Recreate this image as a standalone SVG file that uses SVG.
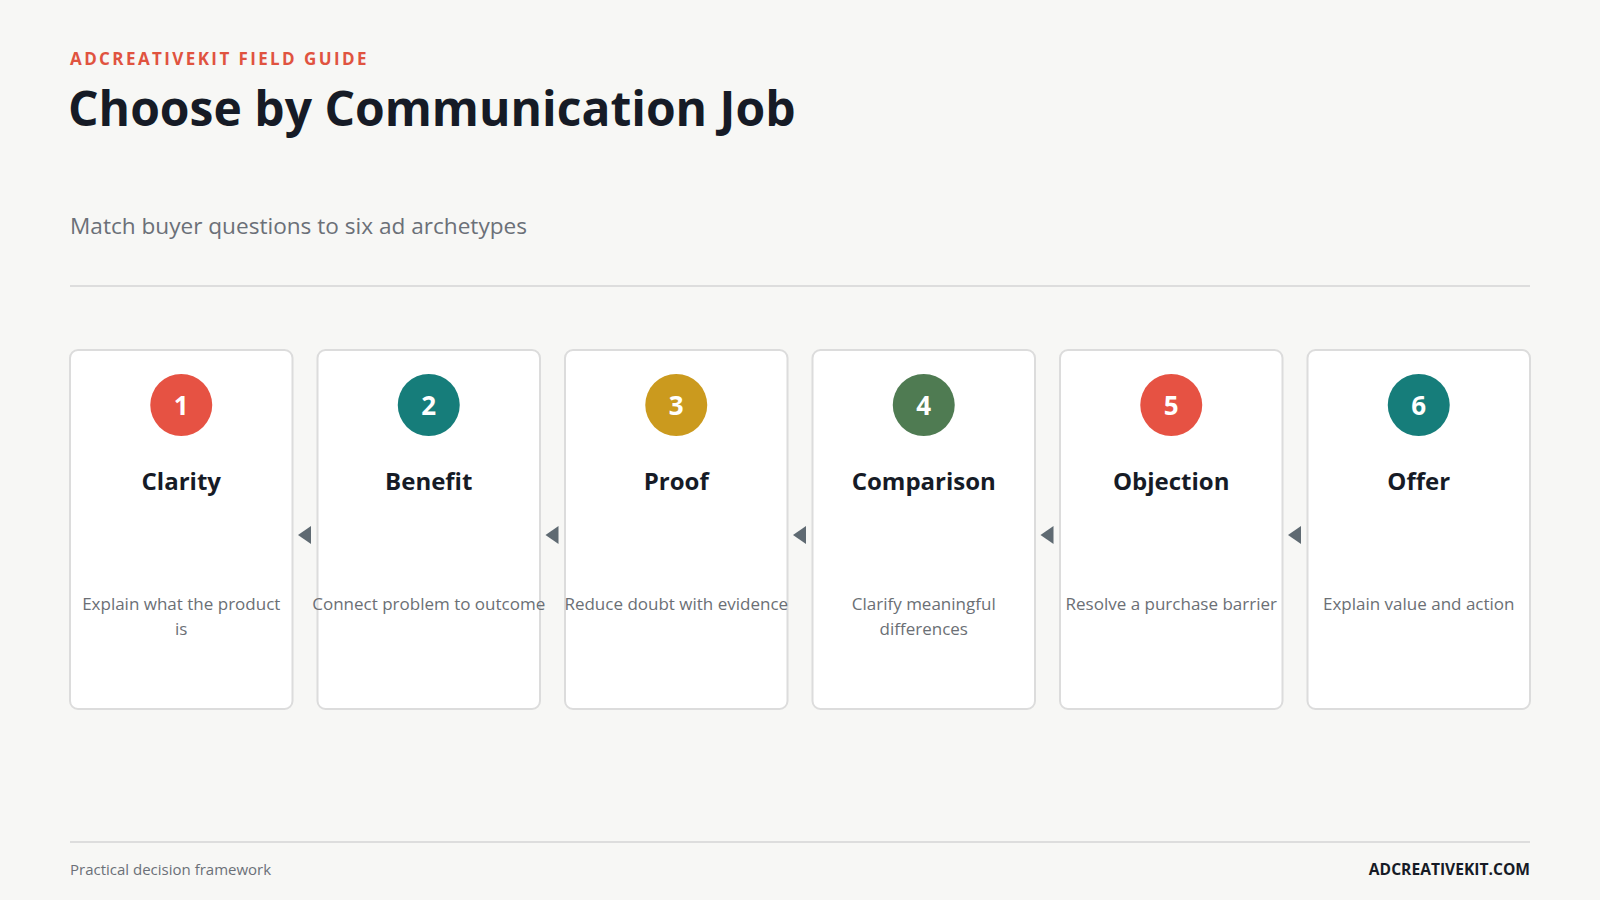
<svg xmlns="http://www.w3.org/2000/svg" width="1600" height="900" viewBox="0 0 1600 900">
<style>
.f{font-family:"Open Sans","Noto Sans","Liberation Sans",sans-serif}
.card{fill:#ffffff;stroke:#dcdcdc;stroke-width:2}
.num{font-family:"Open Sans","Noto Sans",sans-serif;font-weight:700;font-size:26px;fill:#ffffff;text-anchor:middle}
.ttl{font-family:"Open Sans","Noto Sans",sans-serif;font-weight:700;font-size:24px;fill:#161b26;text-anchor:middle}
.desc{font-family:"Open Sans","Noto Sans",sans-serif;font-size:17px;fill:#6b6f75;text-anchor:middle}
.arrow{fill:#5f6a72}
</style>
<rect width="1600" height="900" fill="#f7f7f5"/>
<text class="f" x="70" y="65" font-size="17" font-weight="700" fill="#e0533f" letter-spacing="2.4">ADCREATIVEKIT FIELD GUIDE</text>
<text class="f" x="68" y="126" font-size="48" font-weight="700" fill="#161b26">Choose by Communication Job</text>
<text class="f" x="70" y="234" font-size="22.6" fill="#6b7078">Match buyer questions to six ad archetypes</text>
<line x1="70" y1="286" x2="1530" y2="286" stroke="#dddddd" stroke-width="2"/>
<g id="connectors">
<polygon class="arrow" points="298,535 311,526 311,544"/>
<polygon class="arrow" points="545.5,535 558.5,526 558.5,544"/>
<polygon class="arrow" points="793,535 806,526 806,544"/>
<polygon class="arrow" points="1040.5,535 1053.5,526 1053.5,544"/>
<polygon class="arrow" points="1288,535 1301,526 1301,544"/>
</g>
<g id="node1">
<rect class="card" x="70" y="350" width="222.5" height="359" rx="8"/>
<circle cx="181.25" cy="405" r="31" fill="#e65243"/>
<text class="num" x="181.25" y="415">1</text>
<text class="ttl" x="181.25" y="490">Clarity</text>
<text class="desc" x="181.25" y="610">Explain what the product</text>
<text class="desc" x="181.25" y="635">is</text>
</g>
<g id="node2">
<rect class="card" x="317.5" y="350" width="222.5" height="359" rx="8"/>
<circle cx="428.75" cy="405" r="31" fill="#167d7a"/>
<text class="num" x="428.75" y="415">2</text>
<text class="ttl" x="428.75" y="490">Benefit</text>
<text class="desc" x="428.75" y="610">Connect problem to outcome</text>
</g>
<g id="node3">
<rect class="card" x="565" y="350" width="222.5" height="359" rx="8"/>
<circle cx="676.25" cy="405" r="31" fill="#cb9a1e"/>
<text class="num" x="676.25" y="415">3</text>
<text class="ttl" x="676.25" y="490">Proof</text>
<text class="desc" x="676.25" y="610">Reduce doubt with evidence</text>
</g>
<g id="node4">
<rect class="card" x="812.5" y="350" width="222.5" height="359" rx="8"/>
<circle cx="923.75" cy="405" r="31" fill="#4f7b52"/>
<text class="num" x="923.75" y="415">4</text>
<text class="ttl" x="923.75" y="490">Comparison</text>
<text class="desc" x="923.75" y="610">Clarify meaningful</text>
<text class="desc" x="923.75" y="635">differences</text>
</g>
<g id="node5">
<rect class="card" x="1060" y="350" width="222.5" height="359" rx="8"/>
<circle cx="1171.25" cy="405" r="31" fill="#e65243"/>
<text class="num" x="1171.25" y="415">5</text>
<text class="ttl" x="1171.25" y="490">Objection</text>
<text class="desc" x="1171.25" y="610">Resolve a purchase barrier</text>
</g>
<g id="node6">
<rect class="card" x="1307.5" y="350" width="222.5" height="359" rx="8"/>
<circle cx="1418.75" cy="405" r="31" fill="#167d7a"/>
<text class="num" x="1418.75" y="415">6</text>
<text class="ttl" x="1418.75" y="490">Offer</text>
<text class="desc" x="1418.75" y="610">Explain value and action</text>
</g>
<line x1="70" y1="842" x2="1530" y2="842" stroke="#dddddd" stroke-width="2"/>
<text class="f" x="70" y="875" font-size="15" fill="#6b7078">Practical decision framework</text>
<text class="f" x="1530" y="875" font-size="15.6" font-weight="700" fill="#161b26" text-anchor="end">ADCREATIVEKIT.COM</text>
</svg>
